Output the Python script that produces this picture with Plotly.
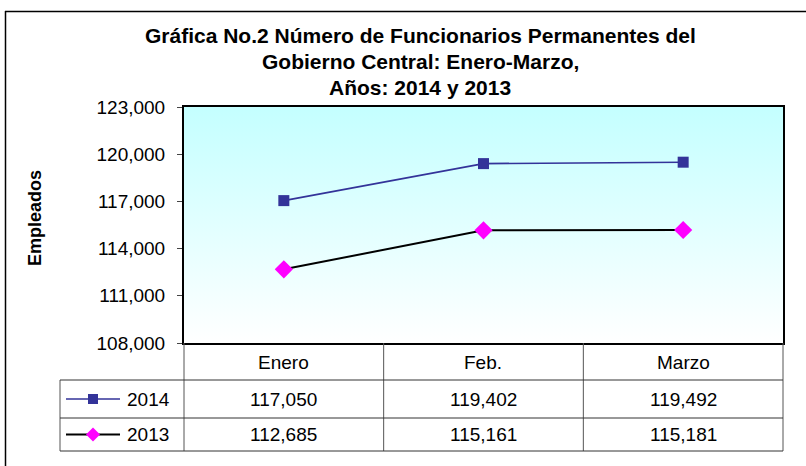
import plotly.graph_objects as go

meses = ['Enero', 'Feb.', 'Marzo']
serie_2014 = [117050, 119402, 119492]
serie_2013 = [112685, 115161, 115181]
anios = ['2014', '2013']
y_ticks = [108000, 111000, 114000, 117000, 120000, 123000]

W, H = 806, 466
L, R, T, B = 184, 783, 107, 343   # plot area in pixels
FONT = 'Liberation Sans, Arial, sans-serif'
FS = 19


def px(p):
    return (p - L) / (R - L)


def py(p):
    return (B - p) / (B - T)


def label(text, x, y, size=FS, xanchor='center', **kw):
    return dict(text=text, x=px(x), y=py(y), xref='paper', yref='paper', showarrow=False,
                xanchor=xanchor, yanchor='middle',
                font=dict(size=size, color='black', family=FONT), **kw)


xs = list(range(len(meses)))
x0, x1 = -0.5, len(meses) - 0.5
y0, y1 = y_ticks[0], y_ticks[-1]

fig = go.Figure()
# gradient background of the plot area
fig.add_trace(go.Scatter(x=[x0, x1, x1, x0, x0], y=[y0, y0, y1, y1, y0], mode='lines',
                         fill='toself', line=dict(width=0), hoverinfo='skip', showlegend=False,
                         fillgradient=dict(type='vertical',
                                           colorscale=[[0, '#FFFFFF'], [1, '#C4FFFF']])))
fig.add_trace(go.Scatter(x=xs, y=serie_2014, mode='lines+markers', name='2014',
                         line=dict(color='#333399', width=1.6),
                         marker=dict(symbol='square', size=11, color='#333399')))
fig.add_trace(go.Scatter(x=xs, y=serie_2013, mode='lines+markers', name='2013',
                         line=dict(color='#000000', width=2),
                         marker=dict(symbol='diamond', size=14, color='#FF00FF')))

shapes = []
ann = []
GRID = '#555555'
# table rows (pixel y)
r_head, r_a, r_b, r_end = B, 380, 418, 451
cols = [L + i * (R - L) / len(meses) for i in range(len(meses) + 1)]
leg_left = 60
for c in cols:
    shapes.append(dict(type='line', xref='paper', yref='paper', x0=px(c), x1=px(c),
                       y0=py(r_head), y1=py(r_end), line=dict(color=GRID, width=1)))
shapes.append(dict(type='line', xref='paper', yref='paper', x0=px(leg_left), x1=px(leg_left),
                   y0=py(r_a), y1=py(r_end), line=dict(color=GRID, width=1)))
for r in [r_a, r_b, r_end]:
    shapes.append(dict(type='line', xref='paper', yref='paper', x0=px(leg_left), x1=px(R),
                       y0=py(r), y1=py(r), line=dict(color='#333333', width=1)))

# header and values
for i, m in enumerate(meses):
    cx = (cols[i] + cols[i + 1]) / 2
    ann.append(label(m, cx, (r_head + r_a) / 2 + 1))
    for vals, (ra, rb) in [(serie_2014, (r_a, r_b)), (serie_2013, (r_b, r_end))]:
        ann.append(label(f'{vals[i]:,}', cx, (ra + rb) / 2))

# legend keys in the table
keys = [('#333399', '#333399', 'square', 1.6), ('#000000', '#FF00FF', 'diamond', 2)]
for (lc, mc, sym, lw), anio, (ra, rb) in zip(keys, anios, [(r_a, r_b), (r_b, r_end)]):
    yc = py((ra + rb) / 2)
    shapes.append(dict(type='line', xref='paper', yref='paper', x0=px(66), x1=px(120),
                       y0=yc, y1=yc, line=dict(color=lc, width=lw)))
    if sym == 'square':
        path = 'M-5,-5 L5,-5 L5,5 L-5,5 Z'
    else:
        path = 'M0,-7 L7,0 L0,7 L-7,0 Z'
    shapes.append(dict(type='path', xref='paper', yref='paper', xsizemode='pixel',
                       ysizemode='pixel', xanchor=px(93), yanchor=yc, path=path,
                       fillcolor=mc, line=dict(width=0)))
    ann.append(label(anio, 125, (ra + rb) / 2, xanchor='left'))

# outer chart frame (left and top)
shapes.append(dict(type='line', xref='paper', yref='paper', x0=px(5.5), x1=px(5.5),
                   y0=py(11), y1=py(H + 5), line=dict(color='black', width=1.5)))
shapes.append(dict(type='line', xref='paper', yref='paper', x0=px(5), x1=px(W + 5),
                   y0=py(11.5), y1=py(11.5), line=dict(color='black', width=1.5)))

# title
titulo = ['Gráfica No.2 Número de Funcionarios Permanentes del',
          'Gobierno Central: Enero-Marzo,',
          'Años: 2014 y 2013']
for t, yy in zip(titulo, [36, 61, 87]):
    ann.append(label(f'<b>{t}</b>', 420, yy, size=21))
ann.append(label('<b>Empleados</b>', 35, 218, size=18, textangle=-90))

fig.update_layout(
    width=W, height=H, margin=dict(l=L, r=W - R, t=T, b=H - B),
    paper_bgcolor='white', plot_bgcolor='white', showlegend=False,
    shapes=shapes, annotations=ann,
    xaxis=dict(range=[x0, x1], showgrid=False, zeroline=False, showticklabels=False,
               showline=True, mirror=True, linecolor='black', linewidth=2, ticks=''),
    yaxis=dict(range=[y0, y1], tickvals=y_ticks, tickformat=',d', showgrid=False,
               zeroline=False, showline=True, mirror=True, linecolor='black', linewidth=2,
               ticks='outside', ticklen=5, tickcolor='#444444', ticklabelstandoff=8,
               tickfont=dict(size=FS, color='black', family=FONT)),
)

fig.write_html('out.html', config={'displayModeBar': False},
               post_script="document.body.style.margin='0';")
